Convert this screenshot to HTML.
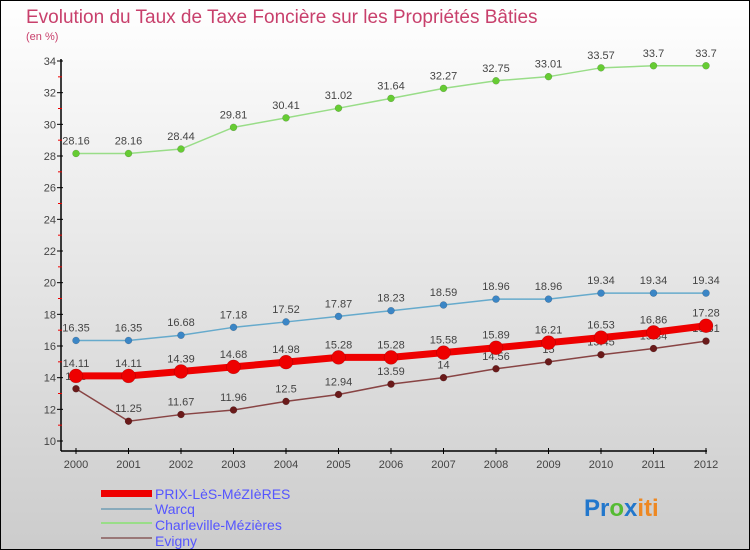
<!DOCTYPE html>
<html><head><meta charset="utf-8"><style>
body{margin:0}
#c{width:748px;height:548px;border:1px solid #000;background:linear-gradient(#fff,#ccc);position:relative;overflow:hidden;font-family:"Liberation Sans",sans-serif}
</style></head><body>
<div id="c">
<svg id="s" width="748" height="548" xmlns="http://www.w3.org/2000/svg">
<text x="25" y="22" font-size="19" fill="#c8406c">Evolution du Taux de Taxe Foncière sur les Propriétés Bâties</text>
<text x="25" y="39" font-size="11" fill="#c8406c">(en %)</text>
<g id="axes"></g><g id="series"></g>
<g>
<rect x="100" y="489" width="51" height="7" fill="#e00"/>
<text x="154" y="498" font-size="14" fill="#55f">PRIX-LèS-MéZIèRES</text>
<line x1="100" y1="508" x2="151" y2="508" stroke="#8ab" stroke-width="2"/>
<text x="154" y="513" font-size="14" fill="#55f">Warcq</text>
<line x1="100" y1="522" x2="151" y2="522" stroke="#9d8" stroke-width="2"/>
<text x="154" y="529" font-size="14" fill="#55f">Charleville-Mézières</text>
<line x1="100" y1="537" x2="151" y2="537" stroke="#977" stroke-width="2"/>
<text x="154" y="545" font-size="14" fill="#55f">Evigny</text>
</g>
<text x="583" y="515" font-size="24" font-weight="bold"><tspan fill="#27c">Pr</tspan><tspan fill="#5b3">o</tspan><tspan fill="#27c">x</tspan><tspan fill="#e82">iti</tspan></text>
</svg>
</div>
<script>
const years=[2000,2001,2002,2003,2004,2005,2006,2007,2008,2009,2010,2011,2012];
const prix=[14.11,14.11,14.39,14.68,14.98,15.28,15.28,15.58,15.89,16.21,16.53,16.86,17.28];
const warcq=[16.35,16.35,16.68,17.18,17.52,17.87,18.23,18.59,18.96,18.96,19.34,19.34,19.34];
const charleville=[28.16,28.16,28.44,29.81,30.41,31.02,31.64,32.27,32.75,33.01,33.57,33.7,33.7];
const evigny=[13.3,11.25,11.67,11.96,12.5,12.94,13.59,14,14.56,15,15.45,15.84,16.31];
const yTicks=[10,12,14,16,18,20,22,24,26,28,30,32,34];
const NS="http://www.w3.org/2000/svg";
const xs=i=>75+(years[i]-2000)*52.5;
const ys=v=>440-(v-10)*15.833;
function mk(tag,a,p){const e=document.createElementNS(NS,tag);for(const k in a)e.setAttribute(k,a[k]);p.appendChild(e);return e;}
const ax=document.getElementById('axes');
let l=mk('line',{x1:60,y1:58,x2:60,y2:450,stroke:'#000','stroke-width':1.5},ax);


l=mk('line',{x1:60,y1:450,x2:706,y2:450,stroke:'#000','stroke-width':1.5},ax);


yTicks.forEach((v,i)=>{
  const y=ys(v);
  mk('line',{x1:56,y1:y,x2:62,y2:y,stroke:'#000'},ax);
  if(i<yTicks.length-1){mk('line',{x1:57,y1:ys(v+1),x2:61,y2:ys(v+1),stroke:'#e00'},ax);}
  const t=mk('text',{x:55,y:y+4,'font-size':11,fill:'#444','text-anchor':'end'},ax);
  t.textContent=v;
  
  
});
years.forEach((yr,i)=>{
  const x=xs(i);
  mk('line',{x1:x,y1:447,x2:x,y2:453,stroke:'#000'},ax);
  const t=mk('text',{x:x,y:467,'font-size':11,fill:'#444','text-anchor':'middle'},ax);
  t.textContent=yr;
  
  
});
const sg=document.getElementById('series');
function draw(name,vals,color,w,r,dot){
  const g=mk('g',{},sg);
  
  
  mk('polyline',{points:vals.map((v,i)=>xs(i)+','+ys(v)).join(' '),fill:'none',stroke:color,'stroke-width':w},g);
  vals.forEach((v,i)=>{
    const c=mk('circle',{cx:xs(i),cy:ys(v),r:r,fill:dot,stroke:'rgba(0,0,0,0.25)','stroke-width':0.5},g);
    
    
    const t=mk('text',{x:xs(i),y:ys(v)-9,'font-size':11,fill:'#444','text-anchor':'middle'},g);
    t.textContent=v;
    
    
  });
}
draw('charleville',charleville,'#9d8',1.5,3.5,'#6c3');
draw('warcq',warcq,'#6ac',1.5,3.5,'#3b86c6');
draw('evigny',evigny,'#844',1.5,3.5,'#6a1a1a');
draw('prix',prix,'#e00',7,7,'#e00');
</script>
</body></html>
